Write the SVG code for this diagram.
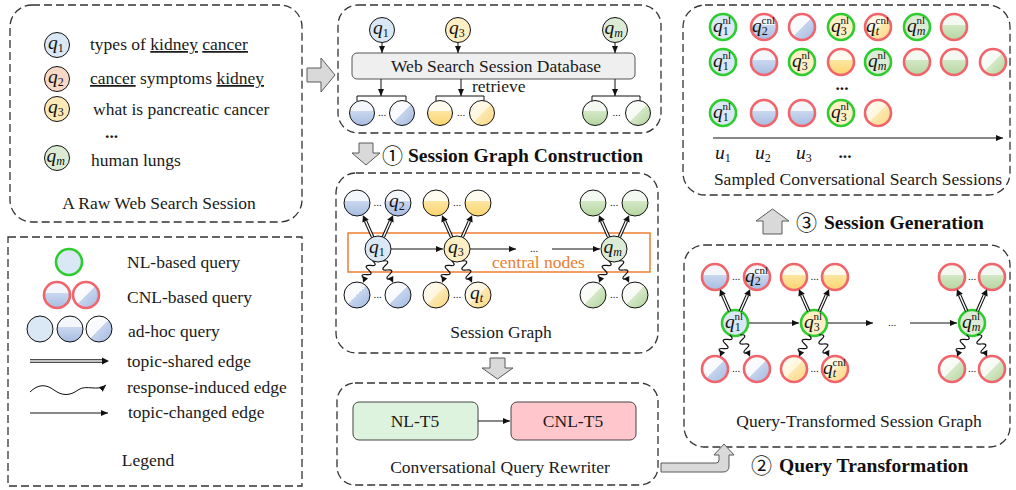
<svg xmlns="http://www.w3.org/2000/svg" xmlns:xlink="http://www.w3.org/1999/xlink" width="1016" height="490" viewBox="0 0 1016 490">
<style>
.dash{fill:none;stroke:#333;stroke-width:1.3;stroke-dasharray:8 4}
.t{font-family:"Liberation Serif","Times New Roman",serif;font-size:17.5px;fill:#1a1a1a}
.m{text-anchor:middle}
.bd{font-family:"Liberation Serif","Times New Roman",serif;font-size:19.5px;font-weight:bold;fill:#111}
.cn{font-family:"Noto Sans CJK SC","DejaVu Sans",sans-serif;font-size:21px;fill:#111}
.q{font-family:"Liberation Serif","Times New Roman",serif;font-style:italic;font-size:19.5px;fill:#111}
.sb{font-size:12px;font-style:normal}
.sp{font-size:11px;font-style:normal}
.it{font-style:italic}
.el{font-family:"Liberation Serif",serif;font-size:11px;fill:#222;text-anchor:middle}
.nb{stroke:#111;stroke-width:1}
.nl{stroke:#2ecc2e;stroke-width:2.6}
.cnl{stroke:#f0646c;stroke-width:2.6}
.ln{stroke:#111;stroke-width:1;fill:none}
.gray{fill:#d9d9d9;stroke:#5a5a5a;stroke-width:1}
</style>
<defs>
<linearGradient id="hb" x1="0" y1="0" x2="0" y2="1"><stop offset="0" stop-color="#f3f6fb"/><stop offset="0.42" stop-color="#f3f6fb"/><stop offset="0.42" stop-color="#cad8ef"/><stop offset="1" stop-color="#a7bce1"/></linearGradient>
<linearGradient id="db" x1="0" y1="0" x2="1" y2="1"><stop offset="0" stop-color="#ffffff"/><stop offset="0.5" stop-color="#f7f9fd"/><stop offset="0.5" stop-color="#c6d5ee"/><stop offset="1" stop-color="#a3b9e0"/></linearGradient>
<linearGradient id="hy" x1="0" y1="0" x2="0" y2="1"><stop offset="0" stop-color="#fffbef"/><stop offset="0.42" stop-color="#fffbef"/><stop offset="0.42" stop-color="#fde6a2"/><stop offset="1" stop-color="#fcd46e"/></linearGradient>
<linearGradient id="dy" x1="0" y1="0" x2="1" y2="1"><stop offset="0" stop-color="#fffdf6"/><stop offset="0.5" stop-color="#fff6dc"/><stop offset="0.5" stop-color="#fde9b4"/><stop offset="1" stop-color="#fcd67c"/></linearGradient>
<linearGradient id="hg" x1="0" y1="0" x2="0" y2="1"><stop offset="0" stop-color="#f3f8f0"/><stop offset="0.42" stop-color="#f3f8f0"/><stop offset="0.42" stop-color="#d3e8c6"/><stop offset="1" stop-color="#b5d6a0"/></linearGradient>
<linearGradient id="dg" x1="0" y1="0" x2="1" y2="1"><stop offset="0" stop-color="#ffffff"/><stop offset="0.5" stop-color="#f6faf3"/><stop offset="0.5" stop-color="#d6e9ca"/><stop offset="1" stop-color="#afd398"/></linearGradient>
<marker id="ar" markerUnits="userSpaceOnUse" markerWidth="8" markerHeight="8" refX="7" refY="4" orient="auto"><path d="M0,1 L7,4 L0,7 z" fill="#111"/></marker>
<g id="ts">
<path d="M0,-13 V-30.5" stroke="#111" stroke-width="3.6"/>
<path d="M0,-13.5 V-30.5" stroke="#fff" stroke-width="1.3"/>
<path d="M-3.5,-30.5 L0,-37 L3.5,-30.5 z" fill="#111"/>
</g>
<g id="rw">
<path d="M0,13 q7.5,2.5 0,5 t0,5 t0,5 t0,5" fill="none" stroke="#111" stroke-width="1.2"/>
<path d="M-3,31 L0,37 L3,31 z" fill="#111"/>
</g>
</defs>
<rect width="1016" height="490" fill="#fff"/>

<g id="raw-session">
<rect class="dash" x="10" y="5" width="292" height="217" rx="22"/>
<circle class="nb" cx="57" cy="45" r="12.5" fill="#dae8f5"/>
<text class="q" x="48" y="49">q<tspan class="sb" dy="3">1</tspan></text>
<circle class="nb" cx="57" cy="79" r="12.5" fill="#f8d8c6"/>
<text class="q" x="48" y="83">q<tspan class="sb" dy="3">2</tspan></text>
<circle class="nb" cx="57" cy="109" r="12.5" fill="#fde9b6"/>
<text class="q" x="48" y="113">q<tspan class="sb" dy="3">3</tspan></text>
<circle class="nb" cx="57" cy="158" r="12.5" fill="#dcecd4"/>
<text class="q" x="46.5" y="162">q<tspan class="sb it" dy="3">m</tspan></text>
<text class="t" x="90" y="50">types of <tspan style="text-decoration:underline">kidney</tspan> <tspan style="text-decoration:underline">cancer</tspan></text>
<text class="t" x="90" y="84"><tspan style="text-decoration:underline">cancer</tspan> symptoms <tspan style="text-decoration:underline">kidney</tspan></text>
<text class="t" x="93" y="115">what is pancreatic cancer</text>
<text class="t" x="105" y="138" font-weight="bold" font-size="13">...</text>
<text class="t" x="91" y="166">human lungs</text>
<text class="t m" x="159" y="209">A Raw Web Search Session</text>
</g>

<g id="legend">
<rect class="dash" x="8" y="237" width="294" height="249"/>
<circle class="nl" cx="69" cy="262" r="13" fill="#dae8f5"/>
<circle class="cnl" cx="57" cy="295" r="13" fill="url(#hb)"/>
<circle class="cnl" cx="86" cy="295" r="13" fill="url(#db)"/>
<circle class="nb" cx="40" cy="329" r="13" fill="#dae8f5"/>
<circle class="nb" cx="70" cy="329" r="13" fill="url(#hb)"/>
<circle class="nb" cx="99" cy="329" r="13" fill="url(#db)"/>
<path d="M30,361 H102" stroke="#111" stroke-width="3.6"/>
<path d="M30,361 H102" stroke="#fff" stroke-width="1.3"/>
<path d="M102,357.5 L109,361 L102,364.5 z" fill="#111"/>
<path class="ln" d="M30,392 C38,384 46,384 54,390 S70,396 78,390 S98,392 106,385" stroke-width="1.4" marker-end="url(#ar)"/>
<path class="ln" d="M30,413 H108" marker-end="url(#ar)"/>
<text class="t" x="127" y="268">NL-based query</text>
<text class="t" x="127" y="303">CNL-based query</text>
<text class="t" x="128" y="337">ad-hoc query</text>
<text class="t" x="127" y="367">topic-shared edge</text>
<text class="t" x="127" y="393">response-induced edge</text>
<text class="t" x="128" y="418">topic-changed edge</text>
<text class="t m" x="148" y="466">Legend</text>
</g>

<g id="retrieval">
<rect class="dash" x="338" y="5" width="323" height="128" rx="20"/>
<circle class="nb" cx="382" cy="30" r="12.5" fill="#dae8f5"/>
<text class="q" x="373" y="34">q<tspan class="sb" dy="3">1</tspan></text>
<circle class="nb" cx="458" cy="30" r="12.5" fill="#fdefc4"/>
<text class="q" x="449" y="34">q<tspan class="sb" dy="3">3</tspan></text>
<circle class="nb" cx="615" cy="30" r="12.5" fill="#dcebd5"/>
<text class="q" x="604.5" y="34">q<tspan class="sb it" dy="3">m</tspan></text>
<rect x="352" y="53" width="283" height="26" rx="5" fill="#efefef" stroke="#555" stroke-width="1"/>
<text class="t m" x="496" y="72">Web Search Session Database</text>
<path class="ln" d="M382,43 V53" marker-end="url(#ar)"/>
<path class="ln" d="M458,43 V53" marker-end="url(#ar)"/>
<path class="ln" d="M615,43 V53" marker-end="url(#ar)"/>
<path class="ln" d="M381,79 V96" marker-end="url(#ar)"/>
<path class="ln" d="M461,79 V96" marker-end="url(#ar)"/>
<path class="ln" d="M615,79 V96" marker-end="url(#ar)"/>
<path class="ln" d="M357,101 V96 H406 V101 M436,101 V96 H484 V101 M592,101 V96 H640 V101"/>
<text class="t" x="472" y="92">retrieve</text>
<circle class="nb" cx="362" cy="113" r="12.5" fill="url(#hb)"/>
<circle class="nb" cx="402" cy="113" r="12.5" fill="url(#db)"/>
<circle class="nb" cx="440" cy="113" r="12.5" fill="url(#hy)"/>
<circle class="nb" cx="482" cy="113" r="12.5" fill="url(#dy)"/>
<circle class="nb" cx="595" cy="113" r="12.5" fill="url(#hg)"/>
<circle class="nb" cx="638" cy="113" r="12.5" fill="url(#dg)"/>
<text class="el" x="382" y="116">...</text>
<text class="el" x="461" y="116">...</text>
<text class="el" x="616.5" y="116">...</text>
</g>

<g id="session-graph">
<rect class="dash" x="336" y="173" width="322" height="180" rx="20"/>
<rect x="348" y="233" width="302" height="39" fill="none" stroke="#ed7d31" stroke-width="1.5"/>
<text class="t" x="492" y="268" style="fill:#ed7d31">central nodes</text>
<circle class="nb" cx="357" cy="203" r="13" fill="url(#hb)"/>
<circle class="nb" cx="398" cy="203" r="13" fill="url(#hb)"/>
<text class="q" x="389" y="207">q<tspan class="sb" dy="3">2</tspan></text>
<circle class="nb" cx="378" cy="249" r="13" fill="#dae8f5"/>
<text class="q" x="369" y="253">q<tspan class="sb" dy="3">1</tspan></text>
<circle class="nb" cx="357" cy="295" r="13" fill="url(#db)"/>
<circle class="nb" cx="398" cy="295" r="13" fill="url(#db)"/>
<circle class="nb" cx="436" cy="203" r="13" fill="url(#hy)"/>
<circle class="nb" cx="478" cy="203" r="13" fill="url(#hy)"/>
<circle class="nb" cx="457" cy="249" r="13" fill="#fdefc4"/>
<text class="q" x="448" y="253">q<tspan class="sb" dy="3">3</tspan></text>
<circle class="nb" cx="436" cy="295" r="13" fill="url(#dy)"/>
<circle class="nb" cx="478" cy="295" r="13" fill="url(#dy)"/>
<text class="q" x="470" y="299">q<tspan class="sb it" dy="3">t</tspan></text>
<circle class="nb" cx="593" cy="203" r="13" fill="url(#hg)"/>
<circle class="nb" cx="635" cy="203" r="13" fill="url(#hg)"/>
<circle class="nb" cx="614" cy="249" r="13" fill="#dcebd5"/>
<text class="q" x="603.5" y="253">q<tspan class="sb it" dy="3">m</tspan></text>
<circle class="nb" cx="593" cy="295" r="13" fill="url(#dg)"/>
<circle class="nb" cx="635" cy="295" r="13" fill="url(#dg)"/>
<text class="el" x="377.5" y="206">...</text>
<text class="el" x="377.5" y="298">...</text>
<text class="el" x="457" y="206">...</text>
<text class="el" x="457" y="298">...</text>
<text class="el" x="614" y="206">...</text>
<text class="el" x="614" y="298">...</text>
<text class="t m" x="501" y="338">Session Graph</text>
</g>

<g id="rewriter">
<rect class="dash" x="337" y="383" width="321" height="102" rx="18"/>
<rect x="353" y="402" width="125" height="38" rx="6" fill="#def3de" stroke="#444" stroke-width="1"/>
<text class="t m" x="415" y="427">NL-T5</text>
<rect x="511" y="402" width="125" height="38" rx="6" fill="#ffc6cb" stroke="#444" stroke-width="1"/>
<text class="t m" x="573" y="427">CNL-T5</text>
<text class="t m" x="500" y="473">Conversational Query Rewriter</text>
</g>

<g id="sampled-sessions">
<rect class="dash" x="683" y="5" width="327" height="190" rx="22"/>
<circle class="nl" cx="723" cy="27" r="13" fill="#dae8f5"/>
<text class="q" x="713" y="32">q<tspan class="sb" dy="3">1</tspan><tspan class="sp" x="722.5" dy="-11">nl</tspan></text>
<circle class="cnl" cx="764" cy="27" r="13" fill="url(#hb)"/>
<text class="q" x="752" y="32">q<tspan class="sb" dy="3">2</tspan><tspan class="sp" x="761.5" dy="-11">cnl</tspan></text>
<circle class="cnl" cx="802" cy="27" r="13" fill="url(#db)"/>
<circle class="nl" cx="841" cy="27" r="13" fill="#fdefc4"/>
<text class="q" x="831" y="32">q<tspan class="sb" dy="3">3</tspan><tspan class="sp" x="840.5" dy="-11">nl</tspan></text>
<circle class="cnl" cx="878" cy="27" r="13" fill="url(#dy)"/>
<text class="q" x="866" y="32">q<tspan class="sb it" dy="3">t</tspan><tspan class="sp" x="875.5" dy="-11">cnl</tspan></text>
<circle class="nl" cx="917" cy="27" r="13" fill="#dcebd5"/>
<text class="q" x="907" y="32">q<tspan class="sb it" dy="3">m</tspan><tspan class="sp" x="916.5" dy="-11">nl</tspan></text>
<circle class="cnl" cx="954" cy="27" r="13" fill="url(#hg)"/>

<circle class="nl" cx="723" cy="62" r="13" fill="#dae8f5"/>
<text class="q" x="713" y="67">q<tspan class="sb" dy="3">1</tspan><tspan class="sp" x="722.5" dy="-11">nl</tspan></text>
<circle class="cnl" cx="764" cy="62" r="13" fill="url(#hb)"/>
<circle class="nl" cx="802" cy="62" r="13" fill="#fdefc4"/>
<text class="q" x="792" y="67">q<tspan class="sb" dy="3">3</tspan><tspan class="sp" x="801.5" dy="-11">nl</tspan></text>
<circle class="cnl" cx="841" cy="62" r="13" fill="url(#hy)"/>
<circle class="nl" cx="878" cy="62" r="13" fill="#dcebd5"/>
<text class="q" x="868" y="67">q<tspan class="sb it" dy="3">m</tspan><tspan class="sp" x="877.5" dy="-11">nl</tspan></text>
<circle class="cnl" cx="917" cy="62" r="13" fill="url(#hg)"/>
<circle class="cnl" cx="954" cy="62" r="13" fill="url(#hg)"/>
<circle class="cnl" cx="993" cy="62" r="13" fill="url(#dg)"/>

<text class="t m" x="842" y="90" font-weight="bold" font-size="13">...</text>

<circle class="nl" cx="723" cy="113" r="13" fill="#dae8f5"/>
<text class="q" x="713" y="118">q<tspan class="sb" dy="3">1</tspan><tspan class="sp" x="722.5" dy="-11">nl</tspan></text>
<circle class="cnl" cx="764" cy="113" r="13" fill="url(#hb)"/>
<circle class="cnl" cx="802" cy="113" r="13" fill="url(#hb)"/>
<circle class="nl" cx="841" cy="113" r="13" fill="#fdefc4"/>
<text class="q" x="831" y="118">q<tspan class="sb" dy="3">3</tspan><tspan class="sp" x="840.5" dy="-11">nl</tspan></text>
<circle class="cnl" cx="878" cy="113" r="13" fill="url(#dy)"/>

<path class="ln" d="M713,138 H1003" marker-end="url(#ar)"/>
<text class="q" x="715" y="159">u<tspan class="sb" dy="3">1</tspan></text>
<text class="q" x="755" y="159">u<tspan class="sb" dy="3">2</tspan></text>
<text class="q" x="796" y="159">u<tspan class="sb" dy="3">3</tspan></text>
<text class="t m" x="845" y="158" font-weight="bold" font-size="13">...</text>
<text class="t m" x="858" y="185">Sampled Conversational Search Sessions</text>
</g>

<g id="transformed-graph">
<rect class="dash" x="684" y="245" width="326" height="202" rx="20"/>
<circle class="cnl" cx="715" cy="277" r="13" fill="url(#hb)"/>
<circle class="cnl" cx="757" cy="277" r="13" fill="url(#hb)"/>
<text class="q" x="745" y="282">q<tspan class="sb" dy="3">2</tspan><tspan class="sp" x="754.5" dy="-11">cnl</tspan></text>
<circle class="nl" cx="735" cy="323" r="13" fill="#dae8f5"/>
<text class="q" x="725" y="328">q<tspan class="sb" dy="3">1</tspan><tspan class="sp" x="734.5" dy="-11">nl</tspan></text>
<circle class="cnl" cx="715" cy="369" r="13" fill="url(#db)"/>
<circle class="cnl" cx="757" cy="369" r="13" fill="url(#db)"/>
<circle class="cnl" cx="794" cy="277" r="13" fill="url(#hy)"/>
<circle class="cnl" cx="835" cy="277" r="13" fill="url(#hy)"/>
<circle class="nl" cx="814" cy="323" r="13" fill="#fdefc4"/>
<text class="q" x="804" y="328">q<tspan class="sb" dy="3">3</tspan><tspan class="sp" x="813.5" dy="-11">nl</tspan></text>
<circle class="cnl" cx="794" cy="369" r="13" fill="url(#dy)"/>
<circle class="cnl" cx="835" cy="369" r="13" fill="url(#dy)"/>
<text class="q" x="823" y="374">q<tspan class="sb it" dy="3">t</tspan><tspan class="sp" x="832.5" dy="-11">cnl</tspan></text>
<circle class="cnl" cx="952" cy="277" r="13" fill="url(#hg)"/>
<circle class="cnl" cx="992" cy="277" r="13" fill="url(#hg)"/>
<circle class="nl" cx="972" cy="323" r="13" fill="#dcebd5"/>
<text class="q" x="962" y="328">q<tspan class="sb it" dy="3">m</tspan><tspan class="sp" x="971.5" dy="-11">nl</tspan></text>
<circle class="cnl" cx="952" cy="369" r="13" fill="url(#dg)"/>
<circle class="cnl" cx="992" cy="369" r="13" fill="url(#dg)"/>
<text class="el" x="736" y="280">...</text>
<text class="el" x="736" y="372">...</text>
<text class="el" x="814.5" y="280">...</text>
<text class="el" x="814.5" y="372">...</text>
<text class="el" x="972" y="280">...</text>
<text class="el" x="972" y="372">...</text>
<text class="t m" x="859" y="427">Query-Transformed Session Graph</text>
</g>

<g id="connectors">
<use xlink:href="#ts" transform="translate(378,249) rotate(-24)"/>
<use xlink:href="#ts" transform="translate(378,249) rotate(24)"/>
<use xlink:href="#rw" transform="translate(378,249) rotate(24)"/>
<use xlink:href="#rw" transform="translate(378,249) rotate(-24)"/>
<use xlink:href="#ts" transform="translate(457,249) rotate(-24)"/>
<use xlink:href="#ts" transform="translate(457,249) rotate(24)"/>
<use xlink:href="#rw" transform="translate(457,249) rotate(24)"/>
<use xlink:href="#rw" transform="translate(457,249) rotate(-24)"/>
<use xlink:href="#ts" transform="translate(614,249) rotate(-24)"/>
<use xlink:href="#ts" transform="translate(614,249) rotate(24)"/>
<use xlink:href="#rw" transform="translate(614,249) rotate(24)"/>
<use xlink:href="#rw" transform="translate(614,249) rotate(-24)"/>
<path class="ln" d="M391,249 H443" marker-end="url(#ar)"/>
<path class="ln" d="M470,249 H516" marker-end="url(#ar)"/>
<text class="el" x="534" y="252">...</text>
<path class="ln" d="M552,249 H600" marker-end="url(#ar)"/>

<use xlink:href="#ts" transform="translate(735,323) rotate(-24)"/>
<use xlink:href="#ts" transform="translate(735,323) rotate(24)"/>
<use xlink:href="#rw" transform="translate(735,323) rotate(24)"/>
<use xlink:href="#rw" transform="translate(735,323) rotate(-24)"/>
<use xlink:href="#ts" transform="translate(814,323) rotate(-24)"/>
<use xlink:href="#ts" transform="translate(814,323) rotate(24)"/>
<use xlink:href="#rw" transform="translate(814,323) rotate(24)"/>
<use xlink:href="#rw" transform="translate(814,323) rotate(-24)"/>
<use xlink:href="#ts" transform="translate(972,323) rotate(-24)"/>
<use xlink:href="#ts" transform="translate(972,323) rotate(24)"/>
<use xlink:href="#rw" transform="translate(972,323) rotate(24)"/>
<use xlink:href="#rw" transform="translate(972,323) rotate(-24)"/>
<path class="ln" d="M749,323 H799" stroke-width="2" marker-end="url(#ar)"/>
<path class="ln" d="M828,323 H873" marker-end="url(#ar)"/>
<text class="el" x="892" y="326">...</text>
<path class="ln" d="M910,323 H957" marker-end="url(#ar)"/>

<path class="ln" d="M478,421 H510" marker-end="url(#ar)"/>

<path class="gray" d="M307,68 H321 V58 L335,75 L321,92 V82 H307 Z"/>
<path class="gray" d="M359,143 H373 V153 H380 L366,165 L352,153 H359 Z"/>
<path class="gray" d="M490,358 H505 V368 H513 L497.5,379 L482,368 H490 Z"/>
<path class="gray" d="M763,234 V221 H756 L772.5,209 L789,221 H782 V234 Z"/>
<path class="gray" d="M661,463 H716 Q719,463 719,460 V455 H714 L724,444 L734,455 H729 V466 Q729,472 723,472 H661 Z"/>
</g>

<g id="step-labels">
<text class="cn" x="382" y="163">①</text>
<text class="bd" x="408" y="162">Session Graph Construction</text>
<text class="cn" x="751" y="473">②</text>
<text class="bd" x="779" y="472">Query Transformation</text>
<text class="cn" x="796" y="230">③</text>
<text class="bd" x="824" y="229">Session Generation</text>
</g>
</svg>
